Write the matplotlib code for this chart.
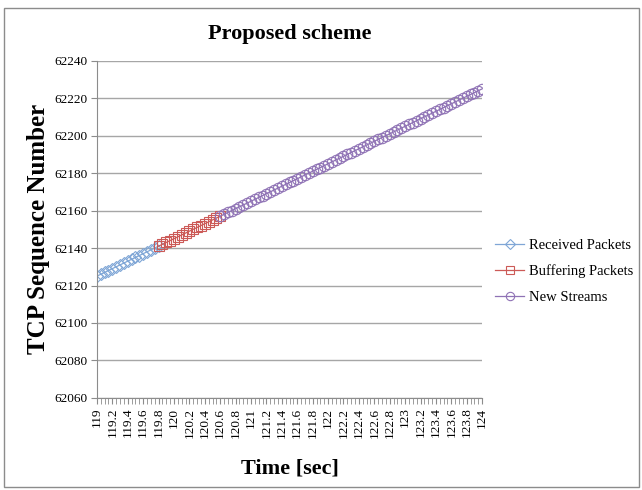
import matplotlib.pyplot as plt
from matplotlib.patches import Rectangle

plt.rcParams["font.family"] = ["Liberation Serif", "DejaVu Serif"]

# received packets before the handover
recv_time = [119.00, 119.05, 119.10, 119.15, 119.20, 119.25, 119.30, 119.35, 119.40,
             119.45, 119.50, 119.55, 119.60, 119.65, 119.70, 119.75, 119.80]
recv_seq = [62125, 62126, 62127, 62128, 62129, 62130, 62131, 62132, 62133,
            62134, 62135, 62136, 62137, 62138, 62139, 62140, 62141]

# packets served from the buffer
buf_time = [119.80, 119.85, 119.90, 119.95, 120.00, 120.05, 120.10, 120.15, 120.20,
            120.25, 120.30, 120.35, 120.40, 120.45, 120.50, 120.55, 120.60]
buf_seq = [62141, 62142, 62143, 62144, 62145, 62146, 62147, 62148, 62149,
           62150, 62151, 62152, 62153, 62154, 62155, 62156, 62157]

# packets of the new stream
new_time = [120.60, 120.65, 120.70, 120.75, 120.80, 120.85, 120.90, 120.95, 121.00,
            121.05, 121.10, 121.15, 121.20, 121.25, 121.30, 121.35, 121.40, 121.45,
            121.50, 121.55, 121.60, 121.65, 121.70, 121.75, 121.80, 121.85, 121.90,
            121.95, 122.00, 122.05, 122.10, 122.15, 122.20, 122.25, 122.30, 122.35,
            122.40, 122.45, 122.50, 122.55, 122.60, 122.65, 122.70, 122.75, 122.80,
            122.85, 122.90, 122.95, 123.00, 123.05, 123.10, 123.15, 123.20, 123.25,
            123.30, 123.35, 123.40, 123.45, 123.50, 123.55, 123.60, 123.65, 123.70,
            123.75, 123.80, 123.85, 123.90, 123.95, 124.00]
new_seq = [62157, 62158, 62159, 62160, 62161, 62162, 62163, 62164, 62165,
           62166, 62167, 62168, 62169, 62170, 62171, 62172, 62173, 62174,
           62175, 62176, 62177, 62178, 62179, 62180, 62181, 62182, 62183,
           62184, 62185, 62186, 62187, 62188, 62189, 62190, 62191, 62192,
           62193, 62194, 62195, 62196, 62197, 62198, 62199, 62200, 62201,
           62202, 62203, 62204, 62205, 62206, 62207, 62208, 62209, 62210,
           62211, 62212, 62213, 62214, 62215, 62216, 62217, 62218, 62219,
           62220, 62221, 62222, 62223, 62224, 62225]

x_labels = ["119", "119.2", "119.4", "119.6", "119.8", "120", "120.2", "120.4", "120.6",
            "120.8", "121", "121.2", "121.4", "121.6", "121.8", "122", "122.2", "122.4",
            "122.6", "122.8", "123", "123.2", "123.4", "123.6", "123.8", "124"]
y_ticks = [62060, 62080, 62100, 62120, 62140, 62160, 62180, 62200, 62220, 62240]

fig = plt.figure(figsize=(6.42, 4.90), dpi=100)
ax = fig.add_axes([0.151, 0.188, 0.600, 0.688])

fig.patches.append(Rectangle((0.006, 0.006), 0.990, 0.978, transform=fig.transFigure,
                             fill=False, edgecolor="#8c8c8c", linewidth=1.0))

ax.plot(recv_time, recv_seq, color="#7fa6d6", lw=0.9, marker="D", ms=6,
        mfc="none", mec="#7fa6d6", mew=0.8, label="Received Packets")
ax.plot(buf_time, buf_seq, color="#cc5a57", lw=0.9, marker="s", ms=7,
        mfc="none", mec="#cc5a57", mew=0.8, label="Buffering Packets")
ax.plot(new_time, new_seq, color="#8f72b5", lw=0.9, marker="o", ms=7.5,
        mfc="none", mec="#8f72b5", mew=0.8, label="New Streams")

ax.set_xlim(119, 124)
ax.set_ylim(62060, 62240)
ax.set_yticks(y_ticks)
ax.set_yticklabels([str(v) for v in y_ticks], fontsize=9.5)
ax.set_xticks([119 + 0.2 * k for k in range(len(x_labels))])
ax.set_xticklabels(x_labels, rotation=90, fontsize=9.5)
ax.set_xticks([119 + 0.05 * k for k in range(101)], minor=True)

ax.grid(axis="y", color="#a6a6a6", lw=1.0)
ax.set_axisbelow(True)
for side in ("top", "right"):
    ax.spines[side].set_visible(False)
ax.spines["left"].set_color("#8c8c8c")
ax.spines["bottom"].set_color("#8c8c8c")
ax.tick_params(axis="y", length=4, color="#8c8c8c", pad=3)
ax.tick_params(axis="x", which="both", length=4, color="#8c8c8c", pad=3)

ax.set_title("Proposed scheme", fontsize=16, fontweight="bold", pad=16)
ax.set_xlabel("Time [sec]", fontsize=16, fontweight="bold", labelpad=15)
ax.set_ylabel("TCP Sequence Number", fontsize=18, fontweight="bold", labelpad=3)

ax.legend(loc="center left", bbox_to_anchor=(1.0, 0.376), frameon=False,
          fontsize=10.5, handlelength=2.0, labelspacing=0.85, handletextpad=0.3,
          markerscale=0.8)

fig.savefig("out.png", dpi=100)
